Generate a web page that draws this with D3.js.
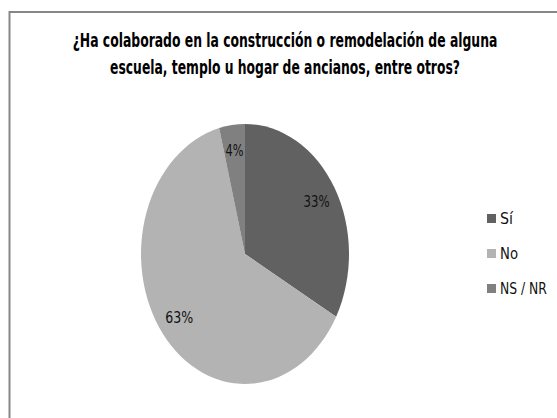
<!DOCTYPE html>
<html>
<head>
<meta charset="utf-8">
<script src="https://cdn.jsdelivr.net/npm/d3@7"></script>
<style>
  html, body { margin: 0; padding: 0; background: #fff; }
  svg { display: block; }
  text { font-family: "Liberation Sans Narrow", "DejaVu Sans Condensed", "Liberation Sans", sans-serif; }
</style>
</head>
<body>
<svg id="chart" width="557" height="418"></svg>
<script>
const titleLines = ["¿Ha colaborado en la construcción o remodelación de alguna",
                    "escuela, templo u hogar de ancianos, entre otros?"];
const categories = ["Sí", "No", "NS / NR"];
const values = [33, 63, 4];
const labels = ["33%", "63%", "4%"];
const colors = ["#616161", "#b3b3b3", "#808080"];

const svg = d3.select("#chart");

// fit a text horizontally to a target width by scaling it around its anchor
function fitWidth(sel, target, ax) {
  const node = sel.node();
  const w = node.getComputedTextLength();
  if (w > 0) {
    const k = target / w;
    sel.attr("transform", `translate(${ax},0) scale(${k},1) translate(${-ax},0)`);
  }
}

// frame
svg.append("rect")
  .attr("x", 9.5).attr("y", 12).attr("width", 600).attr("height", 500)
  .attr("fill", "#fff").attr("stroke", "#878787").attr("stroke-width", 2);

// title
const titleWidths = [425, 350];
const titleY = [47, 74.5];
titleLines.forEach((t, i) => {
  const tx = svg.append("text")
    .attr("x", 285).attr("y", titleY[i])
    .attr("text-anchor", "middle")
    .attr("font-size", 19).attr("font-weight", "bold").attr("fill", "#000")
    .text(t);
  fitWidth(tx, titleWidths[i], 285);
});

// pie
const R = 130, sx = 104 / 130;
const cx = 245, cy = 254;
const pie = d3.pie().sort(null).value(d => d)(values);
const arc = d3.arc().innerRadius(0).outerRadius(R);
const labelArc = d3.arc().innerRadius(R * 0.8).outerRadius(R * 0.8);

const g = svg.append("g").attr("transform", `translate(${cx},${cy})`);
g.append("g").attr("transform", `scale(${sx},1)`)
  .selectAll("path").data(pie).join("path")
  .attr("d", arc)
  .attr("fill", (d, i) => colors[i]);

const labelW = [26, 28, 18];
pie.forEach((d, i) => {
  const [lx, ly] = labelArc.centroid(d);
  const t = g.append("text")
    .attr("x", lx * sx)
    .attr("y", ly + 5.5)
    .attr("text-anchor", "middle")
    .attr("font-size", 15).attr("fill", "#111")
    .text(labels[i]);
  fitWidth(t, labelW[i], lx * sx);
});

// legend
const legY = d3.scalePoint().domain(categories).range([218.5, 288.5]);
const legW = [13, 18, 47];
const leg = svg.append("g");
categories.forEach((c, i) => {
  leg.append("rect")
    .attr("x", 487).attr("y", legY(c) - 4.5).attr("width", 9).attr("height", 9)
    .attr("fill", colors[i]);
  const t = leg.append("text")
    .attr("x", 500).attr("y", legY(c) + 6)
    .attr("font-size", 16).attr("fill", "#111")
    .text(c);
  fitWidth(t, legW[i], 500);
});
</script>
</body>
</html>
